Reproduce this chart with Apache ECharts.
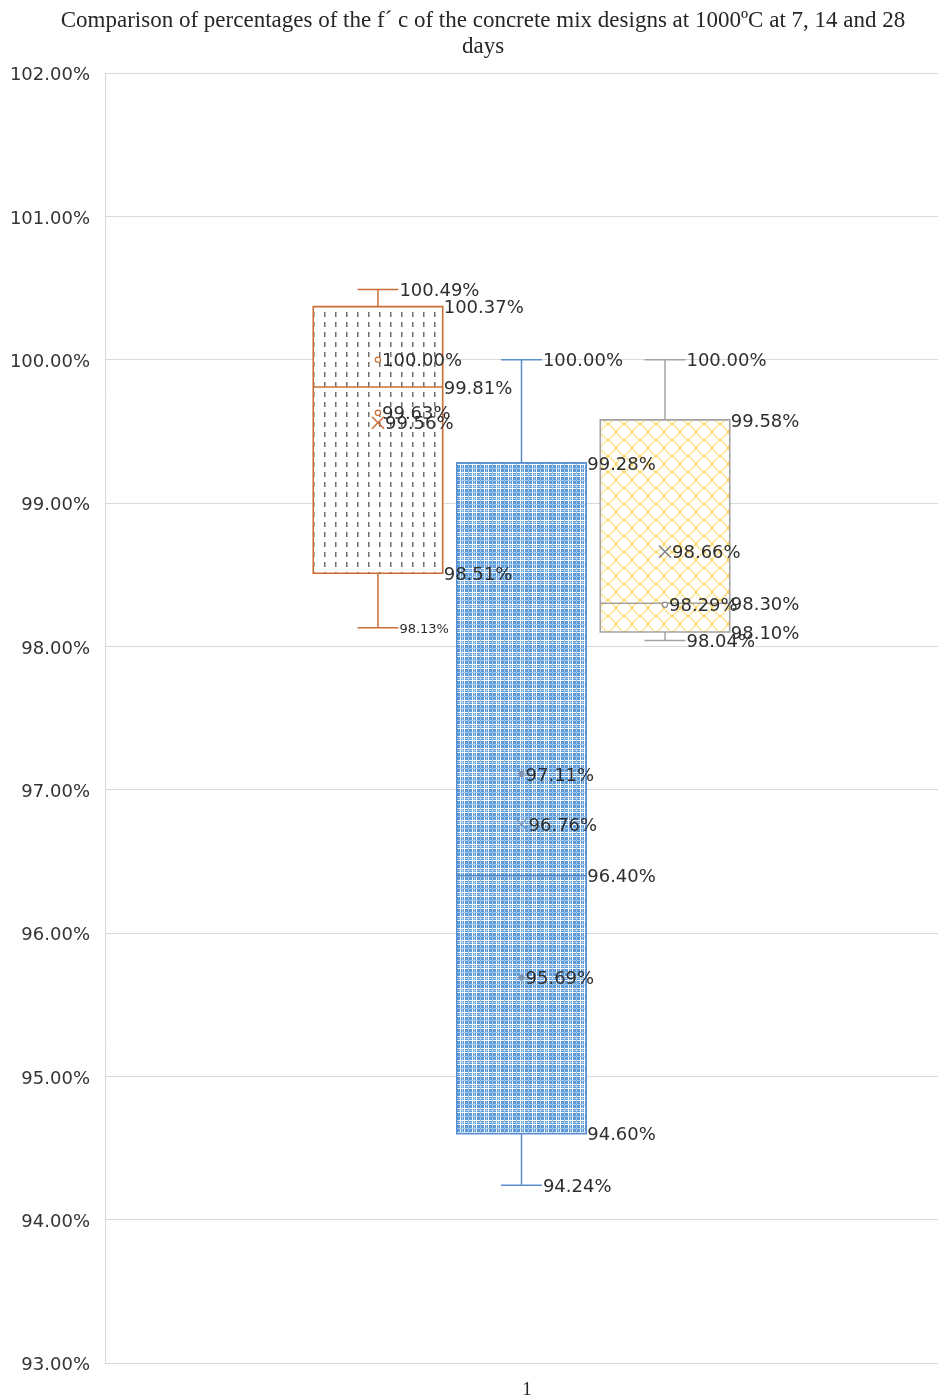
<!DOCTYPE html>
<html>
<head>
<meta charset="utf-8">
<script src="https://cdn.jsdelivr.net/npm/echarts@6/dist/echarts.min.js"></script>
<style>
  html, body { margin: 0; padding: 0; background: #fff; }
  #chart { width: 938px; height: 1400px; }
</style>
</head>
<body>
<div id="chart"></div>
<script>
// ---- data ----
const categories = ['1'];
const yAxisMin = 93;
const yAxisMax = 102;
const yAxisStep = 1;

// one entry per mix design (7, 14, 28 days)
const boxMin    = [98.13, 94.24, 98.04];
const boxQ1     = [98.51, 94.60, 98.10];
const boxMedian = [99.81, 96.40, 98.30];
const boxQ3     = [100.37, 99.28, 99.58];
const boxMax    = [100.49, 100.00, 100.00];
const boxMean   = [99.56, 96.76, 98.66];
const innerPoints = [
  [100.00, 99.63],
  [97.11, 95.69],
  [98.29]
];

// ---- styles ----
const lineColors  = ['#cc6d33', '#5b8fd0', '#a3a3a3'];
const medianColors = ['#cc6d33', '#4a78b2', '#a3a3a3'];
const meanColors  = ['#cc6d33', '#7f9bc9', '#7f7f7f'];
const pointColors = ['#cc6d33', '#8094b4', '#8c8c8c'];
const labelColor = '#2e2e2e';
const labelFont = 'DejaVu Sans';
const LABEL_DY = 2;

const SPACING = 0.1723;   // distance between box centres, share of band
const BOX_HALF = 0.0777;  // half box width, share of band
const CAP_HALF = 0.0245;  // half whisker cap width, share of band

function makeTile(w, h, draw) {
  const c = document.createElement('canvas');
  c.width = w; c.height = h;
  draw(c.getContext('2d'), w, h);
  return c;
}

// dashed vertical lines on white
const tileDashed = makeTile(11, 10, (ctx, w, h) => {
  ctx.fillStyle = '#ffffff';
  ctx.fillRect(0, 0, w, h);
  ctx.fillStyle = '#6f6f6f';
  ctx.fillRect(5, 2, 1.5, 5);
});

// blue blocks in a white mesh
const tileWeave = makeTile(12, 12, (ctx, w, h) => {
  ctx.fillStyle = '#ffffff';
  ctx.fillRect(0, 0, w, h);
  ctx.fillStyle = '#5b9ad8';
  for (let a = 0; a < w; a += 4) {
    for (let b = 0; b < h; b += 4) {
      ctx.fillRect(a + 1, b + 1, 3, 3);
    }
  }
  ctx.fillStyle = 'rgba(91,154,216,0.55)';
  ctx.fillRect(0, 0, w, 1);
  ctx.fillRect(0, 0, 1, h);
  ctx.fillStyle = 'rgba(255,255,255,0.45)';
  ctx.fillRect(6, 0, 1, h);
  ctx.fillRect(0, 6, w, 1);
});

// yellow diamond lattice on white
const tileLattice = makeTile(16, 16, (ctx, w, h) => {
  ctx.fillStyle = '#ffffff';
  ctx.fillRect(0, 0, w, h);
  ctx.strokeStyle = '#ffd34f';
  ctx.lineWidth = 1.4;
  ctx.setLineDash([2, 1]);
  ctx.beginPath();
  ctx.moveTo(0, 8); ctx.quadraticCurveTo(5, 5, 8, 0);
  ctx.moveTo(8, 0); ctx.quadraticCurveTo(11, 5, 16, 8);
  ctx.moveTo(16, 8); ctx.quadraticCurveTo(11, 11, 8, 16);
  ctx.moveTo(8, 16); ctx.quadraticCurveTo(5, 11, 0, 8);
  ctx.stroke();
});

const boxTiles = [tileDashed, tileWeave, tileLattice];

const pct = v => v.toFixed(2) + '%';

function label(x, y, v, size) {
  return {
    type: 'text',
    z2: 100,
    style: {
      x: x, y: y + LABEL_DY,
      text: pct(v),
      fill: labelColor,
      font: (size || 18) + 'px "' + labelFont + '"',
      textAlign: 'left',
      textVerticalAlign: 'middle'
    }
  };
}

function renderBox(params, api) {
  const i = api.value(7);
  const band = api.size([1, 0])[0];
  const base = api.coord([api.value(0), yAxisMin]);
  const cx = base[0] + (i - 1) * band * SPACING;
  const half = band * BOX_HALF;
  const cap = band * CAP_HALF;
  const y = v => api.coord([api.value(0), v])[1];

  const vMin = api.value(1), vQ1 = api.value(2), vMed = api.value(3),
        vQ3 = api.value(4), vMax = api.value(5), vMean = api.value(6);
  const lc = lineColors[i];
  const children = [];

  // whiskers
  const stroke = { stroke: lc, lineWidth: 1.5 };
  children.push({ type: 'line', shape: { x1: cx, y1: y(vQ3), x2: cx, y2: y(vMax) }, style: stroke });
  children.push({ type: 'line', shape: { x1: cx - cap, y1: y(vMax), x2: cx + cap, y2: y(vMax) }, style: stroke });
  children.push({ type: 'line', shape: { x1: cx, y1: y(vQ1), x2: cx, y2: y(vMin) }, style: stroke });
  children.push({ type: 'line', shape: { x1: cx - cap, y1: y(vMin), x2: cx + cap, y2: y(vMin) }, style: stroke });

  // box
  children.push({
    type: 'rect',
    shape: { x: cx - half, y: y(vQ3), width: half * 2, height: y(vQ1) - y(vQ3) },
    style: { fill: { image: boxTiles[i], repeat: 'repeat' }, stroke: lc, lineWidth: 1.6 }
  });

  // median
  children.push({
    type: 'line',
    shape: { x1: cx - half, y1: y(vMed), x2: cx + half, y2: y(vMed) },
    style: { stroke: medianColors[i], lineWidth: i === 1 ? 1 : 1.5 }
  });

  // inner points
  innerPoints[i].forEach(p => {
    children.push({
      type: 'circle',
      shape: { cx: cx, cy: y(p), r: 2.6 },
      style: { fill: i === 1 ? pointColors[i] : '#ffffff', stroke: pointColors[i], lineWidth: 1.2 }
    });
    children.push(label(cx + 4, y(p), p));
  });

  // mean marker
  const m = 6, my = y(vMean);
  children.push({ type: 'line', shape: { x1: cx - m, y1: my - m, x2: cx + m, y2: my + m }, style: { stroke: meanColors[i], lineWidth: 1.5 } });
  children.push({ type: 'line', shape: { x1: cx - m, y1: my + m, x2: cx + m, y2: my - m }, style: { stroke: meanColors[i], lineWidth: 1.5 } });
  children.push(label(cx + m + 1, my, vMean));

  // value labels
  children.push(label(cx + cap + 1, y(vMax), vMax));
  children.push(label(cx + half + 1, y(vQ3), vQ3));
  children.push(label(cx + half + 1, y(vMed), vMed));
  children.push(label(cx + half + 1, y(vQ1), vQ1));
  children.push(label(cx + cap + 1, y(vMin), vMin, i === 0 ? 13 : 18));

  return { type: 'group', children: children };
}

const boxData = boxMin.map((_, i) => [0, boxMin[i], boxQ1[i], boxMedian[i], boxQ3[i], boxMax[i], boxMean[i], i]);

const chart = echarts.init(document.getElementById('chart'), null, { renderer: 'canvas' });
chart.setOption({
  animation: false,
  backgroundColor: '#ffffff',
  title: {
    text: 'Comparison of percentages of the f\u00b4 c of the concrete mix designs at 1000\u00baC at 7, 14 and 28\ndays',
    left: 478,
    top: 3,
    textAlign: 'center',
    textStyle: {
      fontFamily: 'Liberation Serif',
      fontWeight: 'normal',
      fontSize: 23,
      lineHeight: 26,
      color: '#262626'
    }
  },
  grid: { left: 105, right: 0, top: 73, bottom: 35, containLabel: false },
  xAxis: {
    type: 'category',
    data: categories,
    axisLine: { show: true, lineStyle: { color: '#d9d9d9', width: 1 } },
    axisTick: { show: false },
    axisLabel: { margin: 18, padding: [0, 0, 0, 11], fontFamily: 'Liberation Serif', fontSize: 19, color: '#262626' },
    splitLine: { show: false }
  },
  yAxis: {
    type: 'value',
    min: yAxisMin,
    max: yAxisMax,
    interval: yAxisStep,
    axisLine: { show: true, lineStyle: { color: '#d9d9d9', width: 1 } },
    axisTick: { show: false },
    axisLabel: {
      margin: 15,
      fontFamily: labelFont,
      fontSize: 18,
      color: '#333333',
      formatter: v => '{t|' + pct(v) + '}',
      rich: {
        t: { fontFamily: labelFont, fontSize: 18, color: '#333333', padding: [5, 0, 0, 0] }
      }
    },
    splitLine: { show: true, lineStyle: { color: '#d9d9d9', width: 1 } }
  },
  series: [{
    type: 'custom',
    renderItem: renderBox,
    data: boxData,
    encode: { x: 0, y: [1, 2, 3, 4, 5] },
    clip: false
  }]
});
</script>
</body>
</html>
